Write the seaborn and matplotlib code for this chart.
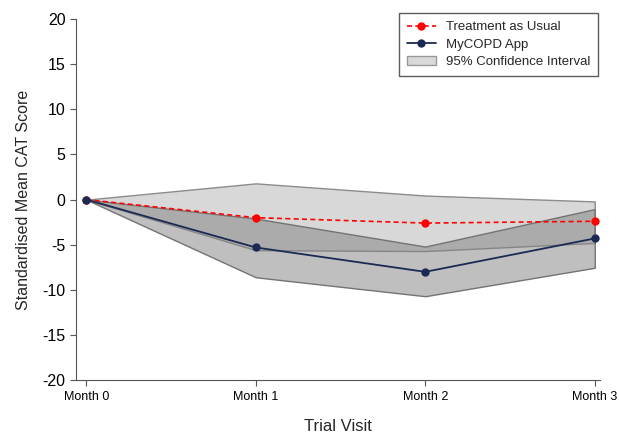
import matplotlib
matplotlib.use("Agg")
import matplotlib.pyplot as plt
import seaborn as sns
import pandas as pd
from matplotlib.patches import Patch
from matplotlib.lines import Line2D

visits = ["Month 0", "Month 1", "Month 2", "Month 3"]
tau_mean = [0.0, -2.0, -2.6, -2.4]
tau_upper = [0.0, 1.8, 0.45, -0.2]
tau_lower = [0.0, -5.6, -5.7, -4.8]
app_mean = [0.0, -5.3, -8.0, -4.3]
app_upper = [0.0, -2.1, -5.2, -1.05]
app_lower = [0.0, -8.6, -10.7, -7.55]
yticks = [-20, -15, -10, -5, 0, 5, 10, 15, 20]

sns.set_style("ticks")
plt.rcParams['font.family'] = ['Liberation Sans', 'DejaVu Sans']

pos = list(range(len(visits)))
df = pd.DataFrame({
    "pos": pos * 2,
    "score": tau_mean + app_mean,
    "group": ["Treatment as Usual"] * 4 + ["MyCOPD App"] * 4,
})

fig = plt.figure(figsize=(6.19, 4.33), dpi=100)
ax = fig.add_axes([0.123, 0.122, 0.846, 0.834])

ax.fill_between(pos, tau_lower, tau_upper, facecolor=(0.5, 0.5, 0.5, 0.3),
                edgecolor=(0.55, 0.55, 0.55), linewidth=1.0, zorder=1)
ax.fill_between(pos, app_lower, app_upper, facecolor=(0.5, 0.5, 0.5, 0.5),
                edgecolor=(0.45, 0.45, 0.45), linewidth=1.0, zorder=1)

sns.lineplot(data=df[df.group == "Treatment as Usual"], x="pos", y="score",
             color="#ff0000", linestyle=(0, (3, 2)), marker="o", markersize=6,
             markeredgewidth=0, linewidth=1.2, ax=ax, zorder=3, legend=False)
sns.lineplot(data=df[df.group == "MyCOPD App"], x="pos", y="score",
             color="#1b2a52", marker="o", markersize=6, markeredgewidth=0,
             linewidth=1.3, ax=ax, zorder=3, legend=False)

ax.set_xlim(-0.06, 3.03)
ax.set_ylim(-20, 20)
ax.set_xticks(pos)
ax.set_xticklabels(visits, fontsize=9)
ax.set_yticks(yticks)
ax.set_yticklabels([str(t) for t in yticks], fontsize=11.5)
ax.set_xlabel("Trial Visit", fontsize=12, labelpad=12)
ax.set_ylabel("Standardised Mean CAT Score", fontsize=11.5, labelpad=8)
for s in ["top", "right"]:
    ax.spines[s].set_visible(False)
for s in ["left", "bottom"]:
    ax.spines[s].set_color("#555555")
ax.tick_params(colors="#555555", labelcolor="black", length=4)

handles = [
    Line2D([0], [0], color="#ff0000", linestyle=(0, (3, 2)), marker="o",
           markersize=6, markeredgewidth=0, linewidth=1.2),
    Line2D([0], [0], color="#1b2a52", marker="o", markersize=6,
           markeredgewidth=0, linewidth=1.3),
    Patch(facecolor="#d9d9d9", edgecolor="#999999"),
]
leg = ax.legend(handles, ["Treatment as Usual", "MyCOPD App", "95% Confidence Interval"],
                loc="upper right", bbox_to_anchor=(1.01, 1.035), fontsize=9.5,
                frameon=True, fancybox=False, edgecolor="#333333",
                handlelength=2.2, borderpad=0.6, labelspacing=0.4)
leg.get_frame().set_linewidth(1.0)

fig.savefig("out.png", dpi=100)
